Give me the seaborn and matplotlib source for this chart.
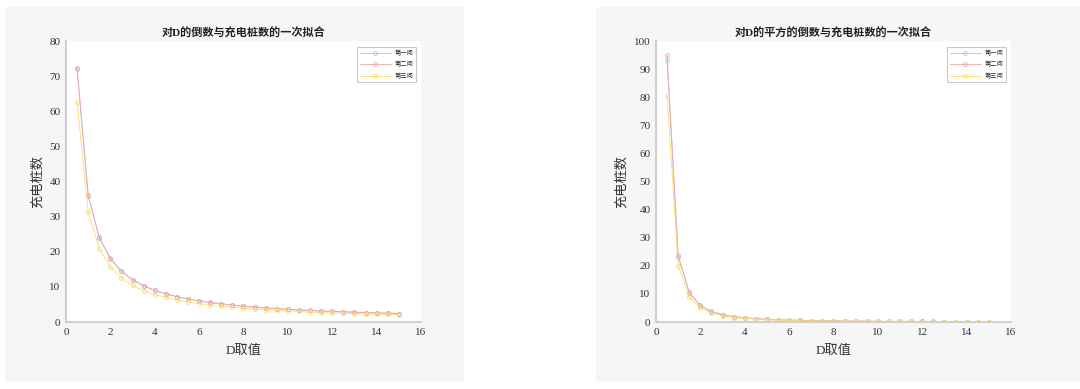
import matplotlib
matplotlib.use("Agg")
import matplotlib.pyplot as plt
import seaborn as sns
import pandas as pd
from matplotlib.patches import Rectangle

# data
d_values = [0.5, 1.0, 1.5, 2.0, 2.5, 3.0, 3.5, 4.0, 4.5, 5.0,
            5.5, 6.0, 6.5, 7.0, 7.5, 8.0, 8.5, 9.0, 9.5, 10.0,
            10.5, 11.0, 11.5, 12.0, 12.5, 13.0, 13.5, 14.0, 14.5, 15.0]
series_names = ["第一问", "第二问", "第三问"]

# left panel: fit on 1/D
inv_q1 = [72.0, 36.0, 24.0, 18.0, 14.4, 12.0, 10.3, 9.0, 8.0, 7.2,
          6.5, 6.0, 5.5, 5.1, 4.8, 4.5, 4.2, 4.0, 3.8, 3.6,
          3.4, 3.3, 3.1, 3.0, 2.9, 2.8, 2.7, 2.6, 2.5, 2.4]
inv_q2 = [72.3, 36.1, 24.1, 18.1, 14.5, 12.0, 10.3, 9.0, 8.0, 7.2,
          6.6, 6.0, 5.6, 5.2, 4.8, 4.5, 4.3, 4.0, 3.8, 3.6,
          3.4, 3.3, 3.1, 3.0, 2.9, 2.8, 2.7, 2.6, 2.5, 2.4]
inv_q3 = [62.6, 31.3, 20.9, 15.6, 12.5, 10.4, 8.9, 7.8, 7.0, 6.3,
          5.7, 5.2, 4.8, 4.5, 4.2, 3.9, 3.7, 3.5, 3.3, 3.1,
          3.0, 2.8, 2.7, 2.6, 2.5, 2.4, 2.3, 2.2, 2.2, 2.1]

# right panel: fit on 1/D^2
sq_q1 = [93.2, 23.3, 10.4, 5.8, 3.7, 2.6, 1.9, 1.5, 1.2, 0.9,
         0.8, 0.6, 0.6, 0.5, 0.4, 0.4, 0.3, 0.3, 0.3, 0.2,
         0.2, 0.2, 0.2, 0.2, 0.1, 0.1, 0.1, 0.1, 0.1, 0.1]
sq_q2 = [95.0, 23.8, 10.6, 5.9, 3.8, 2.6, 1.9, 1.5, 1.2, 1.0,
         0.8, 0.7, 0.6, 0.5, 0.4, 0.4, 0.3, 0.3, 0.3, 0.2,
         0.2, 0.2, 0.2, 0.2, 0.2, 0.1, 0.1, 0.1, 0.1, 0.1]
sq_q3 = [80.5, 20.1, 8.9, 5.0, 3.2, 2.2, 1.6, 1.3, 1.0, 0.8,
         0.7, 0.6, 0.5, 0.4, 0.4, 0.3, 0.3, 0.2, 0.2, 0.2,
         0.2, 0.2, 0.2, 0.1, 0.1, 0.1, 0.1, 0.1, 0.1, 0.1]

colors = ["#9ec9f0", "#f4a3a3", "#ffd966"]

sns.set_style("white")
plt.rcParams["font.family"] = ["Liberation Serif", "Noto Sans CJK SC", "DejaVu Sans"]
plt.rcParams["axes.unicode_minus"] = False

fig = plt.figure(figsize=(10.8, 3.89), dpi=100)
fig.patch.set_facecolor("white")

# gray panel backgrounds
fig.patches.append(Rectangle((0.0046, 0.018), 0.425, 0.964, transform=fig.transFigure,
                             facecolor="#f6f6f6", edgecolor="none", zorder=-10))
fig.patches.append(Rectangle((0.552, 0.018), 0.448, 0.964, transform=fig.transFigure,
                             facecolor="#f6f6f6", edgecolor="none", zorder=-10))

panels = [
    ([0.0611, 0.1722, 0.3287, 0.7224], [inv_q1, inv_q2, inv_q3],
     "对D的倒数与充电桩数的一次拟合", 80, 10),
    ([0.6074, 0.1722, 0.3287, 0.7224], [sq_q1, sq_q2, sq_q3],
     "对D的平方的倒数与充电桩数的一次拟合", 100, 10),
]

for pos, series, title, ymax, ystep in panels:
    ax = fig.add_axes(pos)
    ax.set_facecolor("white")
    for name, vals, c in zip(series_names, series, colors):
        df = pd.DataFrame({"D": d_values, "n": vals})
        sns.lineplot(data=df, x="D", y="n", ax=ax, color=c, lw=0.7, alpha=0.85,
                     marker="o", markersize=2.8, markerfacecolor="none",
                     markeredgecolor=c, markeredgewidth=0.7, label=name)
    ax.set_xlim(0, 16)
    ax.set_ylim(0, ymax)
    ax.set_xticks(range(0, 17, 2))
    ax.set_yticks(range(0, ymax + 1, ystep))
    for s in ["top", "right"]:
        ax.spines[s].set_visible(False)
    for s in ["left", "bottom"]:
        ax.spines[s].set_color("#d0d0d0")
        ax.spines[s].set_linewidth(1.5)
    ax.tick_params(axis="both", direction="out", length=3, width=0.6,
                   color="#999999", labelsize=8, labelcolor="#333333", pad=1)
    ax.set_title(title, fontsize=8, fontweight="bold", color="#222222", pad=3)
    ax.set_xlabel("D取值", fontsize=9.5, color="#333333", labelpad=6)
    ax.set_ylabel("充电桩数", fontsize=9.5, color="#333333", labelpad=4)
    leg = ax.legend(loc="upper right", fontsize=4.5, frameon=True, fancybox=False,
                    numpoints=1, handlelength=5, labelspacing=0.9, borderpad=0.4,
                    handletextpad=0.6, bbox_to_anchor=(0.995, 0.99))
    leg.get_frame().set_edgecolor("#bbbbbb")
    leg.get_frame().set_linewidth(0.8)

fig.savefig("out.png", dpi=100, facecolor="white")
